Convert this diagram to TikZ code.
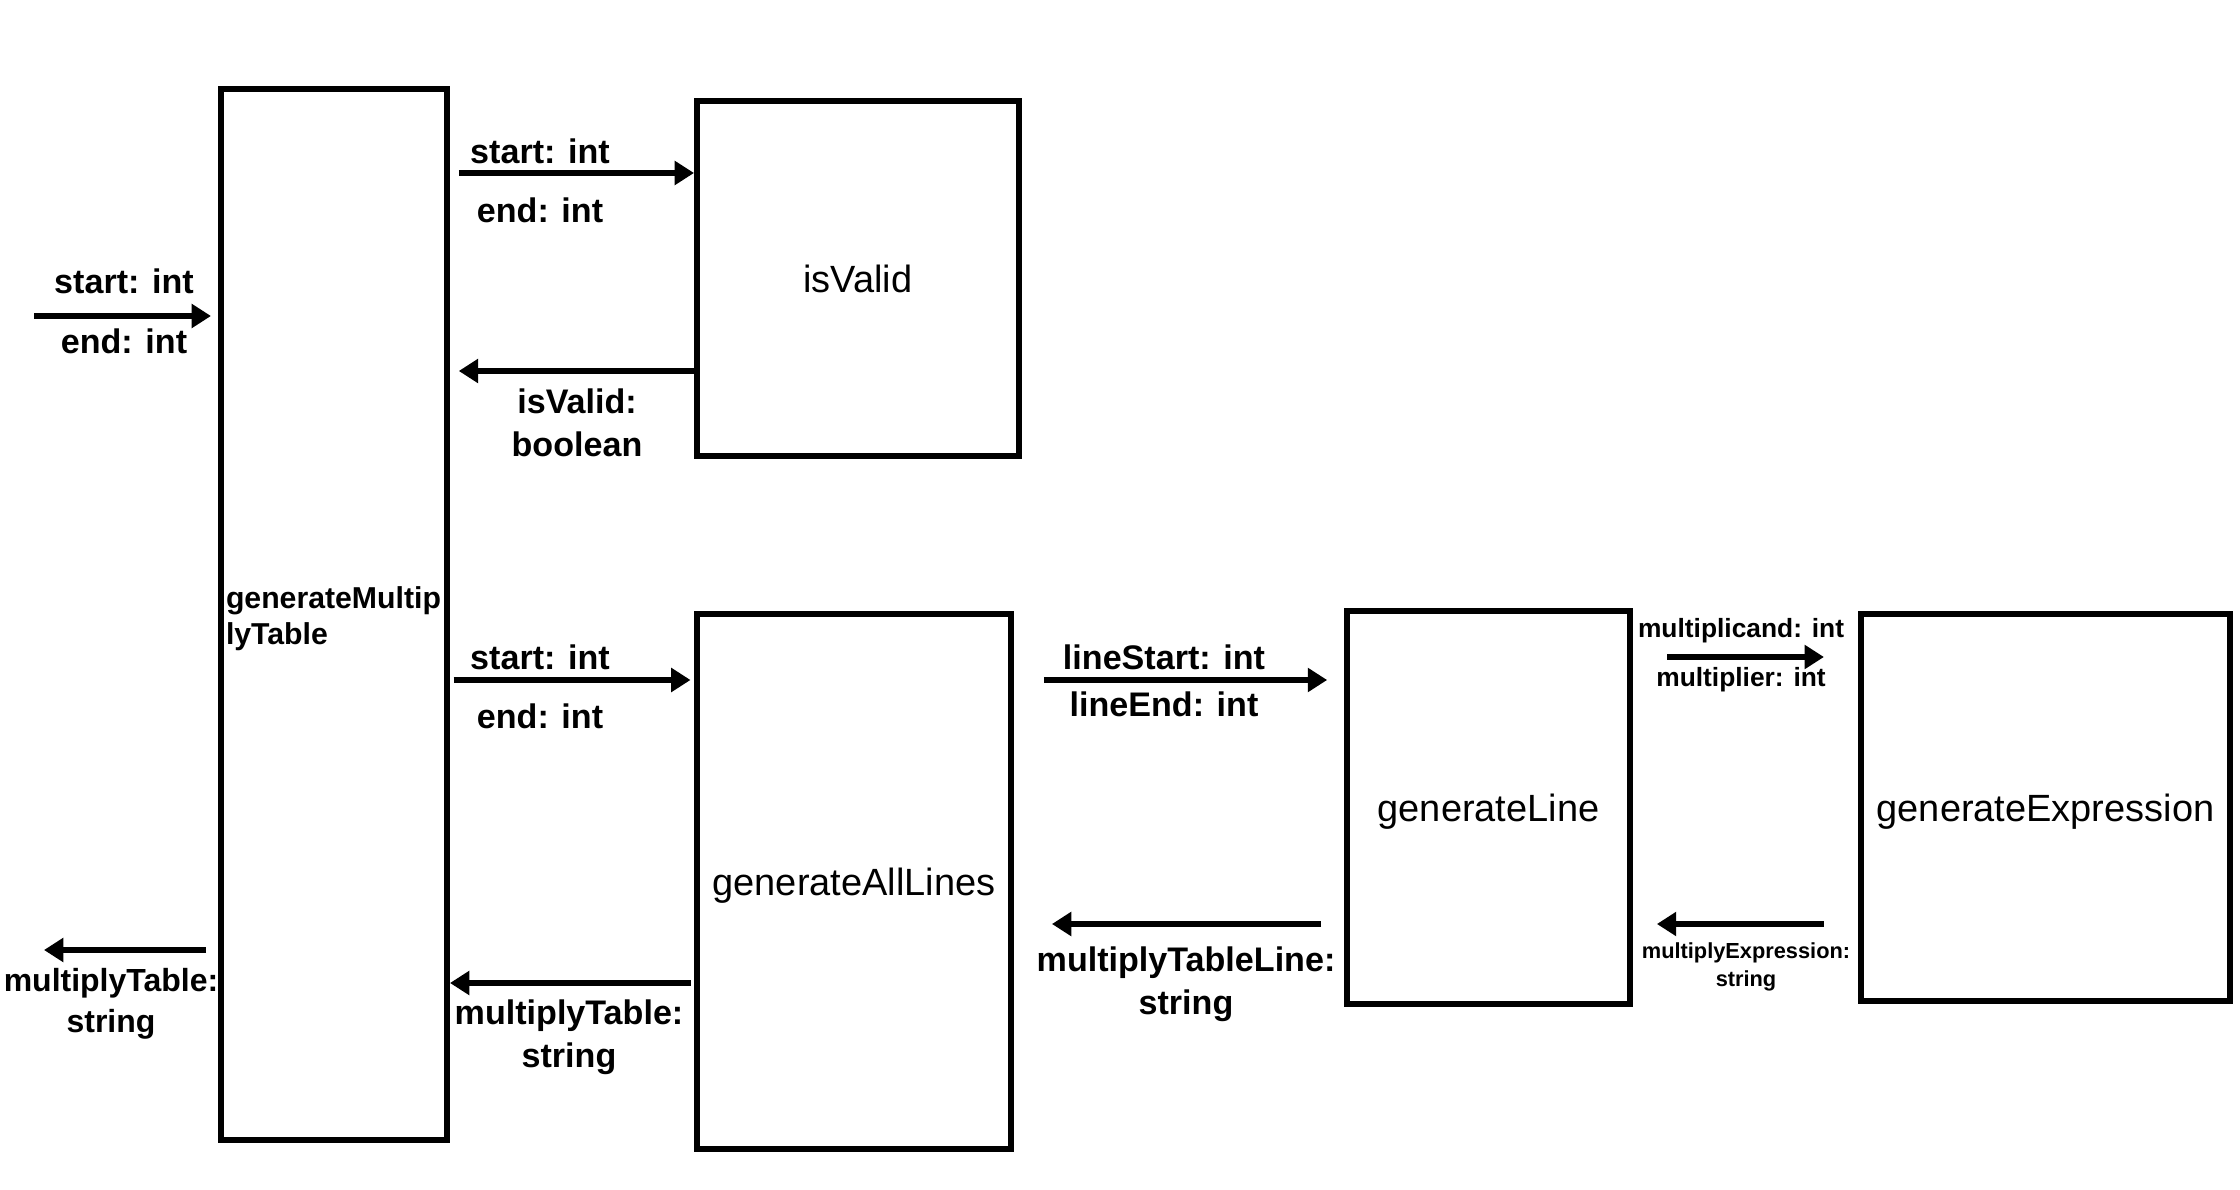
\documentclass[tikz,border=0pt]{standalone}
\usepackage{fontspec}
\setmainfont{Liberation Sans}
\usetikzlibrary{arrows.meta}

\begin{document}
\begin{tikzpicture}[
        box/.style={draw, line width=1.7pt, inner sep=0pt, text depth=0pt, font=\fontsize{10.8}{13}\selectfont},
        flow/.style={line width=1.7pt, -{Triangle[length=5.5pt,width=6.6pt]}},
        lbl/.style={font=\bfseries\fontsize{9.7}{12.2}\selectfont, align=center, inner sep=0pt},
        smalllbl/.style={lbl, font=\bfseries\fontsize{7.5}{9}\selectfont},
        tinylbl/.style={lbl, font=\bfseries\fontsize{6.2}{8.2}\selectfont}]
        \useasboundingbox (0, 0) rectangle (22.4, -11.9);

        \node[box, text width=2.16cm, inner xsep=.05cm, minimum height=10.51cm, align=left, text depth=.34cm,
              font=\bfseries\fontsize{8.6}{10.3}\selectfont] (gmt) at (3.34, -6.145) {generateMultip\\lyTable};
        \node[box, minimum width=3.22cm, minimum height=3.55cm] (valid) at (8.58, -2.785) {isValid};
        \node[box, minimum width=3.14cm, minimum height=5.35cm] (alllines) at (8.54, -8.815) {generateAllLines};
        \node[box, minimum width=2.83cm, minimum height=3.93cm] (line) at (14.885, -8.075) {generateLine};
        \node[box, minimum width=3.69cm, minimum height=3.87cm] (expr) at (20.455, -8.075) {generateExpression};

        \coordinate (in) at (0.34, -3.16);
        \coordinate (out) at (0.44, -9.5);

        \draw[flow, shorten >=2pt] (in) -- (gmt.west |- in);
        \draw[flow, shorten <=2.5pt] (gmt.east |- 0,-1.73) -- (valid.west |- 0,-1.73);
        \draw[flow, shorten >=2.5pt] (valid.west |- 0,-3.71) -- (gmt.east |- 0,-3.71);
        \draw[flow, shorten <=1pt, shorten >=1pt] (gmt.east |- 0,-6.8) -- (alllines.west |- 0,-6.8);
        \draw[flow, shorten <=1pt] (alllines.west |- 0,-9.83) -- (gmt.east |- 0,-9.83);
        \draw[flow, shorten <=3.4pt] (gmt.west |- out) -- (out);
        \draw[flow, shorten <=8.5pt, shorten >=4.8pt] (alllines.east |- 0,-6.8) -- (line.west |- 0,-6.8);
        \draw[flow, shorten <=6.5pt, shorten >=10.8pt] (line.west |- 0,-9.24) -- (alllines.east |- 0,-9.24);
        \draw[flow, shorten <=9.7pt, shorten >=9.7pt] (line.east |- 0,-6.57) -- (expr.west |- 0,-6.57);
        \draw[flow, shorten <=9.7pt, shorten >=6.8pt] (expr.west |- 0,-9.24) -- (line.east |- 0,-9.24);

        \node[lbl] (inStart) at (1.24, -2.81) {start: int};
        \node[lbl] (inEnd) at (1.24, -3.41) {end: int};
        \node[lbl] (validStart) at (5.4, -1.51) {start: int};
        \node[lbl] (validEnd) at (5.4, -2.1) {end: int};
        \node[lbl] (validRes) at (5.77, -4.23) {isValid:\\boolean};
        \node[lbl] (linesStart) at (5.4, -6.57) {start: int};
        \node[lbl] (linesEnd) at (5.4, -7.16) {end: int};
        \node[lbl] (linesRes) at (5.69, -10.37) {multiplyTable:\\string};
        \node[lbl, font=\bfseries\fontsize{9.1}{11.6}\selectfont] (outRes) at (1.11, -10.04) {multiplyTable:\\string};
        \node[lbl] (lineStart) at (11.64, -6.57) {lineStart: int};
        \node[lbl] (lineEnd) at (11.64, -7.04) {lineEnd: int};
        \node[lbl] (lineRes) at (11.86, -9.84) {multiplyTableLine:\\string};
        \node[smalllbl] (exprCand) at (17.41, -6.31) {multiplicand: int};
        \node[smalllbl] (exprPlier) at (17.41, -6.8) {multiplier: int};
        \node[tinylbl] (exprRes) at (17.46, -9.67) {multiplyExpression:\\string};
    \end{tikzpicture}
\end{document}
